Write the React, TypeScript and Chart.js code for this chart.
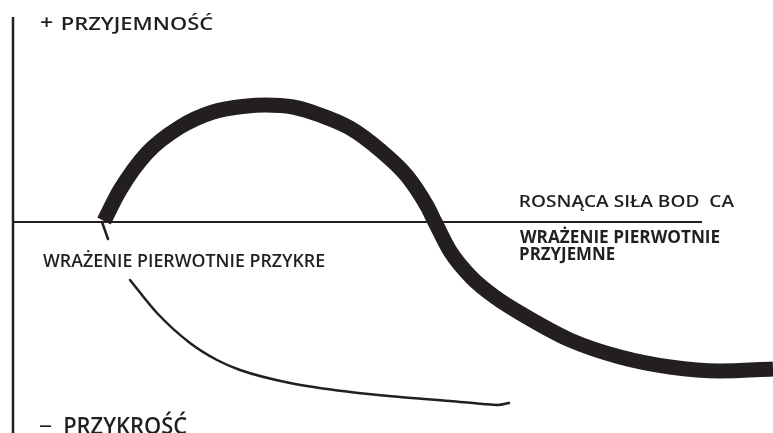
import React, { useEffect, useRef } from 'react';
import { Chart, registerables } from 'chart.js';

Chart.register(...registerables);

// ---- data (x: stimulus strength, y: pleasure(+)/displeasure(-)) ----
const thickX = [91, 107, 134, 167, 200, 234, 252, 280, 307, 337, 367, 394, 414, 422, 437, 459, 482, 507, 557, 607, 657, 707, 760];
const thickY = [1, 32, 69, 95, 110, 116, 117, 115, 107, 94, 72, 46, 16, 0, -29, -56, -75, -91, -118, -135, -145, -149, -147];

const thinX = [89, 95, 106, 117, 144, 177, 204, 227, 277, 337, 387, 437, 470, 485, 496];
const thinY: (number | null)[] = [0, -17, null, -58, -91, -121, -138, -148, -161, -170, -175, -179, -182, -183, -181];

const yAxisX = [0, 0];
const yAxisY = [205, -211];
const xAxisX = [0, 689];
const xAxisY = [0, 0];

const plusSign = '+';
const minusSign = '–';
const axisLabels = ['PRZYJEMNOŚĆ', 'PRZYKROŚĆ'];
const stimulusLabel = 'ROSNĄCA SIŁA BOD  CA';
const regionLabels = ['WRAŻENIE PIERWOTNIE PRZYKRE', 'WRAŻENIE PIERWOTNIE', 'PRZYJEMNE'];

const INK = '#231f20';
const FONT = '"Open Sans", "Liberation Sans", Arial, sans-serif';

const pts = (xs: number[], ys: (number | null)[]) => xs.map((x, i) => ({ x, y: ys[i] }));

function drawFitted(
  ctx: CanvasRenderingContext2D,
  text: string,
  left: number,
  baseline: number,
  cap: number,
  width: number,
  weight: string
) {
  const size = cap / 0.714;
  ctx.save();
  ctx.font = `${weight} ${size}px ${FONT}`;
  ctx.textBaseline = 'alphabetic';
  ctx.textAlign = 'left';
  const m = ctx.measureText(text);
  const w = m.actualBoundingBoxRight + m.actualBoundingBoxLeft;
  const sx = width / w;
  ctx.translate(left, baseline);
  ctx.scale(sx, 1);
  ctx.fillStyle = INK;
  ctx.fillText(text, m.actualBoundingBoxLeft, 0);
  ctx.restore();
}

export default function App() {
  const ref = useRef<HTMLCanvasElement>(null);

  useEffect(() => {
    document.body.style.margin = '0';
    const textPlugin = {
      id: 'texts',
      afterDraw(chart: any) {
        const ctx = chart.ctx as CanvasRenderingContext2D;
        drawFitted(ctx, plusSign, 40, 29, 14, 13, '600');
        drawFitted(ctx, axisLabels[0], 62, 30, 12.5, 151, '600');
        drawFitted(ctx, minusSign, 39, 431, 13, 13, '600');
        drawFitted(ctx, axisLabels[1], 65, 434, 17, 122, '600');
        drawFitted(ctx, stimulusLabel, 520, 207, 12, 215, '600');
        drawFitted(ctx, regionLabels[0], 43, 267, 13, 282, '600');
        drawFitted(ctx, regionLabels[1], 520, 243, 13, 200, '700');
        drawFitted(ctx, regionLabels[2], 520, 260, 13, 95, '700');
      },
    };

    const chart = new Chart(ref.current!, {
      type: 'line',
      data: {
        datasets: [
          {
            data: pts(yAxisX, yAxisY),
            borderColor: INK,
            borderWidth: 2.5,
            pointRadius: 0,
            tension: 0,
            borderCapStyle: 'butt',
          },
          {
            data: pts(xAxisX, xAxisY),
            borderColor: INK,
            borderWidth: 2,
            pointRadius: 0,
            tension: 0,
            borderCapStyle: 'butt',
          },
          {
            data: pts(thinX, thinY),
            borderColor: INK,
            borderWidth: 2.5,
            pointRadius: 0,
            cubicInterpolationMode: 'monotone',
            spanGaps: false,
            borderCapStyle: 'round',
          },
          {
            data: pts(thickX, thickY),
            borderColor: INK,
            borderWidth: 15,
            pointRadius: 0,
            cubicInterpolationMode: 'monotone',
            borderCapStyle: 'butt',
            borderJoinStyle: 'round',
          },
        ] as any,
      },
      options: {
        animation: false,
        responsive: false,
        events: [],
        layout: { padding: 0 },
        plugins: { legend: { display: false }, tooltip: { enabled: false } },
        scales: {
          x: { type: 'linear', min: -13, max: 760, display: false },
          y: { type: 'linear', min: -211, max: 222, display: false },
        },
      },
      plugins: [textPlugin],
    });
    return () => chart.destroy();
  }, []);

  return (
    <div style={{ position: 'absolute', left: 0, top: 0, width: 773, height: 433, background: '#fff' }}>
      <canvas ref={ref} width={773} height={433} style={{ display: 'block' }} />
    </div>
  );
}
